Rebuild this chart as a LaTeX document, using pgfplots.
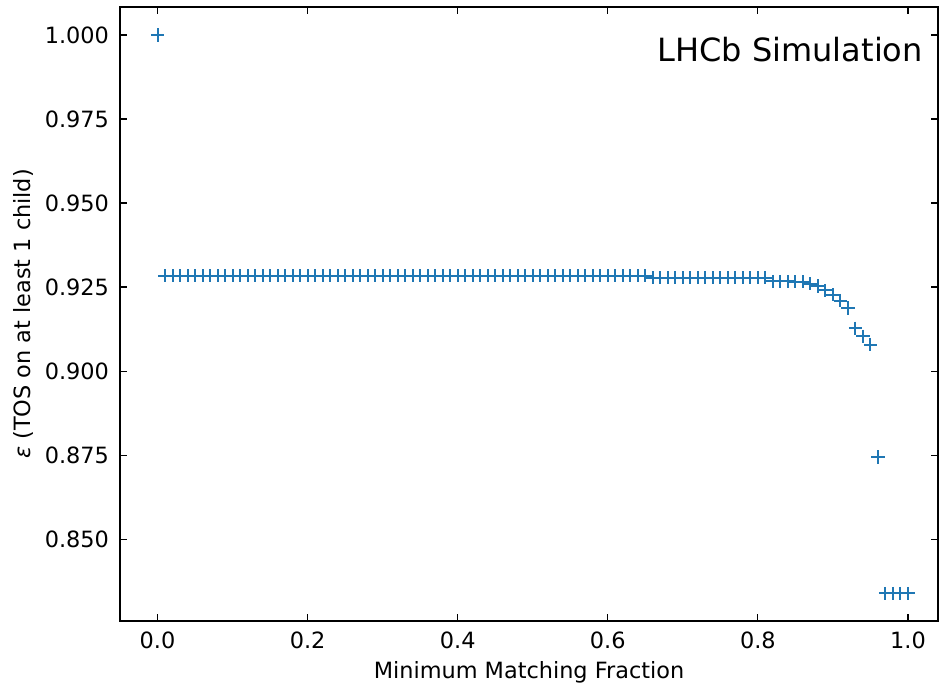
\documentclass[border=0pt]{standalone}
\usepackage{pgfplots}
\pgfplotsset{compat=1.18}
\usepackage{fontspec}
\setmainfont{DejaVu Sans}
\definecolor{mplblue}{HTML}{1F77B4}

\pgfplotstableread{
x y
0.00 1.0000
0.01 0.9284
0.02 0.9284
0.03 0.9284
0.04 0.9284
0.05 0.9284
0.06 0.9284
0.07 0.9284
0.08 0.9284
0.09 0.9284
0.10 0.9284
0.11 0.9284
0.12 0.9284
0.13 0.9284
0.14 0.9284
0.15 0.9284
0.16 0.9284
0.17 0.9284
0.18 0.9284
0.19 0.9284
0.20 0.9284
0.21 0.9284
0.22 0.9284
0.23 0.9284
0.24 0.9284
0.25 0.9284
0.26 0.9284
0.27 0.9284
0.28 0.9284
0.29 0.9284
0.30 0.9284
0.31 0.9284
0.32 0.9284
0.33 0.9284
0.34 0.9284
0.35 0.9284
0.36 0.9284
0.37 0.9284
0.38 0.9284
0.39 0.9284
0.40 0.9284
0.41 0.9284
0.42 0.9284
0.43 0.9284
0.44 0.9284
0.45 0.9284
0.46 0.9284
0.47 0.9284
0.48 0.9284
0.49 0.9284
0.50 0.9284
0.51 0.9284
0.52 0.9284
0.53 0.9284
0.54 0.9284
0.55 0.9284
0.56 0.9284
0.57 0.9284
0.58 0.9284
0.59 0.9284
0.60 0.9284
0.61 0.9284
0.62 0.9284
0.63 0.9284
0.64 0.9284
0.65 0.9284
0.66 0.9278
0.67 0.9278
0.68 0.9278
0.69 0.9278
0.70 0.9278
0.71 0.9278
0.72 0.9278
0.73 0.9278
0.74 0.9278
0.75 0.9278
0.76 0.9278
0.77 0.9278
0.78 0.9278
0.79 0.9278
0.80 0.9278
0.81 0.9278
0.82 0.9267
0.83 0.9267
0.84 0.9267
0.85 0.9266
0.86 0.9266
0.87 0.9260
0.88 0.9253
0.89 0.9240
0.90 0.9227
0.91 0.9210
0.92 0.9188
0.93 0.9128
0.94 0.9104
0.95 0.9079
0.96 0.8745
0.97 0.8339
0.98 0.8339
0.99 0.8339
1.00 0.8339
}\effdata

\begin{document}
\begin{tikzpicture}
\begin{axis}[
    scale only axis,
    width=409pt, height=307pt,
    xmin=-0.05, xmax=1.04,
    ymin=0.8257, ymax=1.0083,
    xtick={0,0.2,...,1.0},
    ytick={0.85,0.875,...,1.0},
    minor tick num=0,
    tick align=inside,
    major tick length=3.5pt,
    every tick/.style={black, line width=0.6pt},
    axis line style={line width=0.8pt},
    /pgf/number format/assume math mode=true,
    x tick label style={/pgf/number format/fixed, /pgf/number format/fixed zerofill, /pgf/number format/precision=1, yshift=-2pt},
    y tick label style={/pgf/number format/fixed, /pgf/number format/fixed zerofill, /pgf/number format/precision=3, xshift=-2pt},
    scaled ticks=false,
    tick label style={font=\fontsize{11.2}{13}\selectfont},
    label style={font=\fontsize{11.2}{13}\selectfont},
    xlabel={Minimum Matching Fraction},
    ylabel={{\itshape ε} (TOS on at least 1 child)},
    xlabel style={yshift=0.5pt},
    ylabel style={yshift=-1pt},
]
\addplot[only marks, color=mplblue, mark=+, mark size=3.3pt, mark options={draw=mplblue, solid, line width=1pt}] table[x=x, y=y] {\effdata};
\node[anchor=north east, font=\fontsize{16}{19}\selectfont] at (rel axis cs:0.99,0.962) {LHCb Simulation};
\end{axis}
\pgfresetboundingbox
\path ([xshift=-60pt,yshift=-32pt]current axis.south west) rectangle ([xshift=0.5pt,yshift=3.5pt]current axis.north east);
\end{tikzpicture}
\end{document}
